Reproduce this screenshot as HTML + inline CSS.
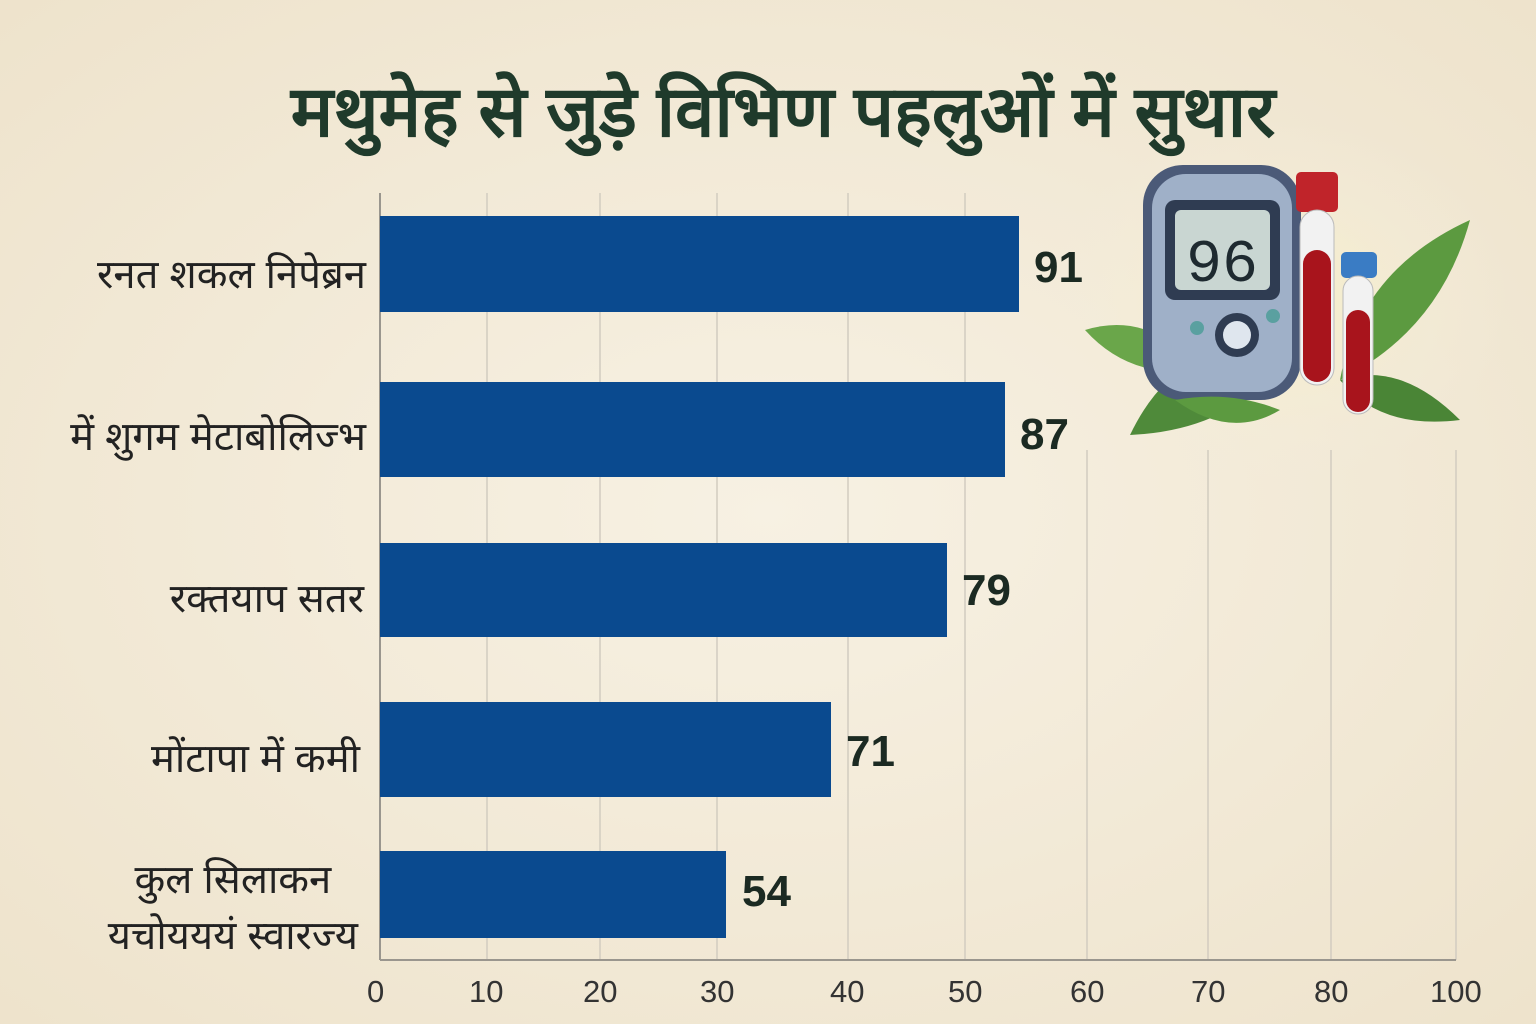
<!DOCTYPE html>
<html><head><meta charset="utf-8"><style>
html,body{margin:0;padding:0}
body{width:1536px;height:1024px;background:#f4eddd;position:relative;overflow:hidden;font-family:"Liberation Sans","Noto Sans CJK SC",sans-serif}
.t{position:absolute;white-space:nowrap}
</style></head><body>
<svg width="1536" height="1024" style="position:absolute;left:0;top:0">
<defs>
<radialGradient id="bg" cx="0.5" cy="0.5" r="0.7"><stop offset="0" stop-color="#f7f1e3"/><stop offset="1" stop-color="#eee3cc"/></radialGradient>
<radialGradient id="glow" cx="0.5" cy="0.5" r="0.5"><stop offset="0" stop-color="#f6efc8"/><stop offset="1" stop-color="#f4eddd" stop-opacity="0"/></radialGradient>
</defs>
<rect width="1536" height="1024" fill="url(#bg)"/>
<ellipse cx="1280" cy="300" rx="230" ry="180" fill="url(#glow)"/>
<g stroke="#d2ccc0" stroke-width="1.5">
<line x1="487" y1="193" x2="487" y2="960"/><line x1="600" y1="193" x2="600" y2="960"/>
<line x1="717" y1="193" x2="717" y2="960"/><line x1="848" y1="193" x2="848" y2="960"/>
<line x1="965" y1="193" x2="965" y2="960"/><line x1="1087" y1="450" x2="1087" y2="960"/>
<line x1="1208" y1="450" x2="1208" y2="960"/><line x1="1331" y1="450" x2="1331" y2="960"/>
<line x1="1456" y1="450" x2="1456" y2="960"/>
</g>
<line x1="380" y1="193" x2="380" y2="960" stroke="#9a968e" stroke-width="2"/>
<line x1="380" y1="960" x2="1456" y2="960" stroke="#9a968e" stroke-width="2"/>
<g fill="#0a4a8f">
<rect x="380" y="216" width="639" height="96"/>
<rect x="380" y="382" width="625" height="95"/>
<rect x="380" y="543" width="567" height="94"/>
<rect x="380" y="702" width="451" height="95"/>
<rect x="380" y="851" width="346" height="87"/>
</g>
<g>
<path d="M1130 435 Q1180 330 1290 350 Q1240 430 1130 435Z" fill="#4f8a3a"/>
<path d="M1470 220 Q1440 330 1340 380 Q1360 270 1470 220Z" fill="#5c9a40"/>
<path d="M1460 420 Q1400 360 1340 380 Q1380 430 1460 420Z" fill="#4a8536"/>
<path d="M1085 330 Q1150 310 1200 370 Q1130 380 1085 330Z" fill="#6aa64a"/>
<rect x="1143" y="165" width="158" height="235" rx="40" fill="#4b5a78"/>
<rect x="1152" y="174" width="140" height="218" rx="34" fill="#9fb0c8"/>
<rect x="1165" y="200" width="115" height="100" rx="10" fill="#2f3c52"/>
<rect x="1175" y="210" width="95" height="80" rx="6" fill="#c9d6d2"/>
<text x="1222" y="281" font-size="60" text-anchor="middle" fill="#1e2a30" font-family="Liberation Mono">96</text>
<circle cx="1237" cy="335" r="22" fill="#2f3c52"/><circle cx="1237" cy="335" r="14" fill="#dfe6ee"/>
<circle cx="1197" cy="328" r="7" fill="#5aa0a0"/><circle cx="1273" cy="316" r="7" fill="#5aa0a0"/>
<rect x="1296" y="172" width="42" height="40" rx="5" fill="#c0242a"/>
<rect x="1300" y="210" width="34" height="175" rx="17" fill="#f2f2f2" stroke="#bbb"/>
<rect x="1303" y="250" width="28" height="132" rx="14" fill="#a8141c"/>
<rect x="1341" y="252" width="36" height="26" rx="5" fill="#3a7cc4"/>
<rect x="1343" y="276" width="30" height="138" rx="15" fill="#f2f2f2" stroke="#bbb"/>
<rect x="1346" y="310" width="24" height="102" rx="12" fill="#a8141c"/>
<path d="M1175 400 Q1230 390 1280 410 Q1230 440 1175 400Z" fill="#5c9a40"/>
</g>
</svg>
<div class="t" style="left:0;width:1566px;text-align:center;top:60px;font-size:71px;font-weight:bold;color:#1f3a2b">मथुमेह से जुड़े विभिण पहलुओं में सुथार</div>
<div class="t" style="right:1170px;top:245px;font-size:40px;color:#222">रनत शकल निपेब्रन</div>
<div class="t" style="right:1170px;top:407px;font-size:40px;color:#222">में शुगम मेटाबोलिज्भ</div>
<div class="t" style="right:1172px;top:569px;font-size:40px;color:#222">रक्तयाप  सतर</div>
<div class="t" style="right:1176px;top:729px;font-size:40px;color:#222">मोंटापा में कमी</div>
<div class="t" style="right:1178px;top:852px;font-size:40px;color:#222;text-align:center;line-height:56px">कुल सिलाकन<br>यचोयययं स्वारज्य</div>
<div class="t" style="left:1034px;top:243px;font-size:44px;font-weight:bold;color:#1b2a22">91</div>
<div class="t" style="left:1020px;top:410px;font-size:44px;font-weight:bold;color:#1b2a22">87</div>
<div class="t" style="left:962px;top:566px;font-size:44px;font-weight:bold;color:#1b2a22">79</div>
<div class="t" style="left:846px;top:727px;font-size:44px;font-weight:bold;color:#1b2a22">71</div>
<div class="t" style="left:742px;top:867px;font-size:44px;font-weight:bold;color:#1b2a22">54</div>
<div style="position:absolute;top:974px;left:0;font-size:31px;color:#333">
<span class="t" style="left:367px">0</span><span class="t" style="left:469px">10</span><span class="t" style="left:583px">20</span><span class="t" style="left:700px">30</span><span class="t" style="left:830px">40</span><span class="t" style="left:948px">50</span><span class="t" style="left:1070px">60</span><span class="t" style="left:1191px">70</span><span class="t" style="left:1314px">80</span><span class="t" style="left:1430px">100</span>
</div>
</body></html>
